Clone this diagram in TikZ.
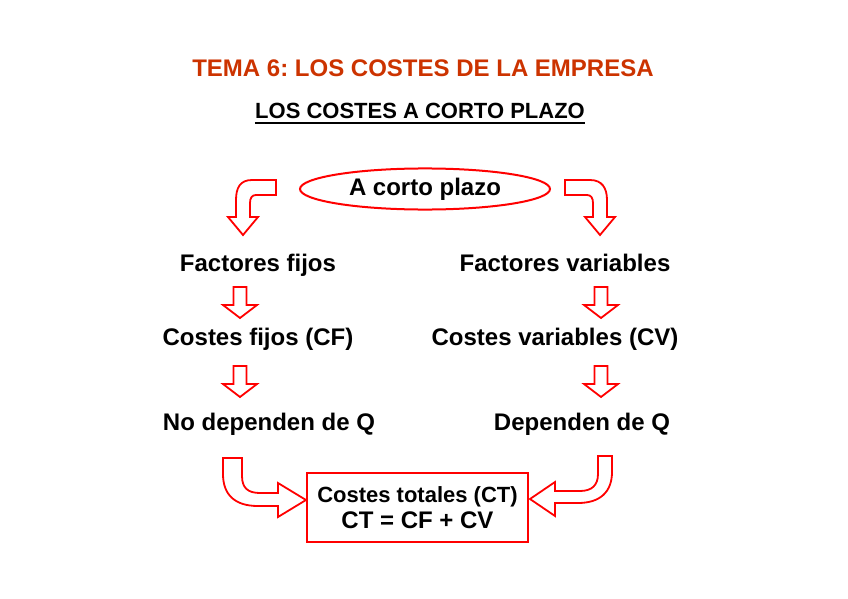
\documentclass[tikz,border=0pt]{standalone}
\usepackage{fontspec}
\setmainfont{Liberation Sans}
\usetikzlibrary{positioning,shapes.geometric}
\definecolor{titulo}{HTML}{CC3300}
\definecolor{rojo}{HTML}{FF0000}
\frenchspacing

\tikzset{
  texto/.style={font=\bfseries\fontsize{24}{28}\selectfont, anchor=base, inner sep=0pt},
  flecha/.style={draw=rojo, line width=1.8pt, fill=white, line join=miter},
  bajar/.pic={\draw[flecha] (-6.5,-15) -- (6.5,-15) -- (6.5,3) -- (17,3) -- (0,16) -- (-17,3) -- (-6.5,3) -- cycle;}
}

\begin{document}
\begin{tikzpicture}[x=1pt, y=-1pt, font=\bfseries]
  \useasboundingbox (0,0) rectangle (848,599);
  \node[texto, text=titulo, font=\bfseries\fontsize{24}{28}\selectfont] (tema) at (423,77)
    {TEMA 6: LOS COSTES DE LA EMPRESA};
  \node[texto, font=\bfseries\fontsize{22}{26}\selectfont] (plazo) at (420,118)
    {LOS COSTES A CORTO PLAZO};
  \draw[line width=1.5pt] ([yshift=-5pt]plazo.base west) -- ([yshift=-5pt]plazo.base east);

  \node[ellipse, draw=rojo, line width=2pt, minimum width=250pt, minimum height=40pt,
    font=\bfseries\fontsize{24}{28}\selectfont] (corto) at (425,189) {A corto plazo};

  \node[texto] (ffijos) at (258,271) {Factores fijos};
  \node[texto] (fvar) at (565,271) {Factores variables};
  \node[texto] (cfijos) at (258,345) {Costes fijos (CF)};
  \node[texto] (cvar) at (555,345) {Costes variables (CV)};
  \node[texto] (nodep) at (269,430) {No dependen de Q};
  \node[texto] (dep) at (582,430) {Dependen de Q};

  \node[draw=rojo, line width=2pt, minimum width=221pt, minimum height=69pt, align=center,
    inner sep=0pt] (total) at (417.5,507.5)
    {\fontsize{22}{29}\selectfont Costes totales (CT)\\[4pt] \fontsize{24}{29}\selectfont CT = CF + CV};

  % flechas curvas de arriba
  \draw[flecha] (276,180) -- (252,180) .. controls (240,180) and (236,188) .. (236,200)
    -- (236,217) -- (228,217) -- (243,235) -- (258,217) -- (250,217) -- (250,203)
    .. controls (250,198) and (252,195) .. (256,195) -- (276,195) -- cycle;
  \draw[flecha] (565,180) -- (590,180) .. controls (602,180) and (607,188) .. (607,200)
    -- (607,217) -- (615,217) -- (600,235) -- (585,217) -- (593,217) -- (593,203)
    .. controls (593,198) and (591,195) .. (587,195) -- (565,195) -- cycle;

  % flechas rectas
  \pic at (240,302) {bajar};
  \pic at (240,381) {bajar};
  \pic at (601,302) {bajar};
  \pic at (601,381) {bajar};

  % flechas curvas hacia el total
  \draw[flecha] (223,458) -- (242,458) -- (242,476) .. controls (242,488) and (248,493) .. (260,493)
    -- (278,493) -- (278,483) -- (306,500) -- (278,517) -- (278,506) -- (258,506)
    .. controls (234,506) and (223,494) .. (223,474) -- cycle;
  \draw[flecha] (598,456) -- (612,456) -- (612,472) .. controls (612,492) and (600,503) .. (578,503)
    -- (555,503) -- (555,516) -- (530,499) -- (555,482) -- (555,491) -- (580,491)
    .. controls (592,491) and (598,485) .. (598,474) -- cycle;
\end{tikzpicture}
\end{document}
